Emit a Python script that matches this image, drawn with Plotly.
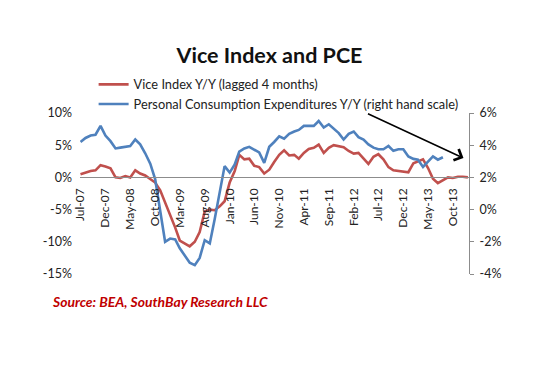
import pandas as pd
import plotly.graph_objects as go

# ---- data ----
months = pd.date_range("2007-07-01", periods=79, freq="MS")

vice_yy = [0.5, 0.8, 1.0, 1.1, 1.9, 1.7, 1.4, 0.0, -0.1, 0.2,
           0.0, 1.1, 0.6, 0.3, -0.2, -0.8, -2.0, -3.8, -5.8, -7.8,
           -9.8, -10.3, -10.7, -10.0, -8.5, -5.3, -5.0, -5.1, -4.5, -3.7,
           -0.8, 1.0, 3.5, 2.8, 2.9, 1.8, 1.6, 0.6, 1.2, 2.4,
           3.5, 4.2, 3.4, 3.5, 2.9, 3.8, 4.4, 4.6, 5.1, 3.8,
           4.6, 5.0, 4.9, 4.7, 4.1, 3.7, 3.8, 2.9, 2.1, 3.2,
           3.6, 2.8, 1.6, 1.1, 1.0, 0.9, 0.8, 2.2, 2.5, 2.8,
           1.5, -0.2, -0.9, -0.4, 0.0, -0.1, 0.1, 0.1, 0.0]

pce_yy = [4.2, 4.45, 4.6, 4.65, 5.2, 4.6, 4.25, 3.8, 3.85, 3.9,
          3.95, 4.35, 4.05, 3.5, 2.85, 1.9, 0.0, -2.0, -1.8, -1.85,
          -2.4, -2.9, -3.3, -3.45, -3.0, -1.9, -2.1, -0.6, 1.0, 2.7,
          2.3, 2.8, 3.6, 3.8, 3.9, 3.7, 3.55, 2.9, 3.9, 4.2,
          4.55, 4.4, 4.7, 4.85, 4.95, 5.2, 5.2, 5.2, 5.5, 5.1,
          5.3, 5.0, 4.75, 4.35, 4.7, 4.85, 4.5, 4.35, 4.05, 3.85,
          3.75, 3.75, 3.95, 3.65, 3.75, 3.75, 3.3, 3.15, 3.1, 2.65,
          3.0, 3.3, 3.1, 3.25]

x_tick_vals = ["2007-07-01", "2007-12-01", "2008-05-01", "2008-10-01",
               "2009-03-01", "2009-08-01", "2010-01-01", "2010-06-01",
               "2010-11-01", "2011-04-01", "2011-09-01", "2012-02-01",
               "2012-07-01", "2012-12-01", "2013-05-01", "2013-10-01"]
x_tick_text = ["Jul-07", "Dec-07", "May-08", "Oct-08", "Mar-09", "Aug-09",
               "Jan-10", "Jun-10", "Nov-10", "Apr-11", "Sep-11", "Feb-12",
               "Jul-12", "Dec-12", "May-13", "Oct-13"]

left_tick_vals = [10, 5, 0, -5, -10, -15]
left_tick_text = ["10%", "5%", "0%", "-5%", "-10%", "-15%"]
right_tick_vals = [6, 4, 2, 0, -2, -4]
right_tick_text = ["6%", "4%", "2%", "0%", "-2%", "-4%"]

RED = "#C0504D"
BLUE = "#4F81BD"
FONT = "Lato"

fig = go.Figure()
fig.add_trace(go.Scatter(x=months, y=vice_yy, mode="lines",
                         name="Vice Index Y/Y (lagged 4 months)",
                         line=dict(color=RED, width=2.6)))
fig.add_trace(go.Scatter(x=months[:len(pce_yy)], y=pce_yy, mode="lines",
                         name="Personal Consumption Expenditures Y/Y (right hand scale)",
                         line=dict(color=BLUE, width=2.6), yaxis="y2"))

left_range = [-15, 10]
zero_pos = (0 - left_range[0]) / (left_range[1] - left_range[0])

fig.update_layout(
    width=553, height=369,
    margin=dict(l=72, r=92, t=105, b=103),
    paper_bgcolor="white", plot_bgcolor="white",
    font=dict(family=FONT, color="#222", size=12),
    title=dict(text="<b>Vice Index and PCE</b>", x=(269.5 - 8) / 553, xanchor="center",
               y=1 - 47 / 369, yanchor="middle",
               font=dict(size=21.5, color="#111", family=FONT)),
    showlegend=True,
    legend=dict(x=0.035, y=1.27, xanchor="left", yanchor="top",
                font=dict(size=12.8, color="#222"), bgcolor="rgba(0,0,0,0)",
                tracegroupgap=0, itemwidth=30),
    xaxis=dict(type="date", range=["2007-06-28", "2014-01-08"],
               tickvals=x_tick_vals, ticktext=x_tick_text, tickangle=-90,
               showgrid=False, zeroline=False, showline=True,
               linecolor="#8c8c8c", linewidth=1.2, ticks="",
               anchor="free", position=zero_pos, ticklabelstandoff=5,
               tickfont=dict(size=12, color="#222")),
    yaxis=dict(range=left_range, tickvals=left_tick_vals, ticktext=left_tick_text,
               showgrid=False, zeroline=False, showline=False, ticks="",
               ticklabelstandoff=7,
               tickfont=dict(size=12.5, color="#222")),
    yaxis2=dict(range=[-4, 6], tickvals=right_tick_vals, ticktext=right_tick_text,
                overlaying="y", side="right", showgrid=False, zeroline=False,
                showline=True, linecolor="#8c8c8c", linewidth=1.2,
                ticks="outside", ticklen=4, tickcolor="#8c8c8c",
                ticklabelstandoff=3,
                tickfont=dict(size=12.5, color="#222")),
)

fig.add_annotation(x="2013-12-05", y=3.2, xref="x", yref="y2",
                   ax=-97, ay=-45, axref="pixel", ayref="pixel",
                   showarrow=True, arrowhead=4, arrowsize=1.6, arrowwidth=1.5,
                   arrowcolor="black", text="")

fig.add_annotation(text="<b><i>Source: BEA, SouthBay Research LLC</i></b>",
                   xref="paper", yref="paper", x=-30 / 389, y=(274 - 301) / 161,
                   xanchor="left", yanchor="middle", showarrow=False,
                   font=dict(size=13.9, color="#C00000", family=FONT))

fig.write_html("out.html")
